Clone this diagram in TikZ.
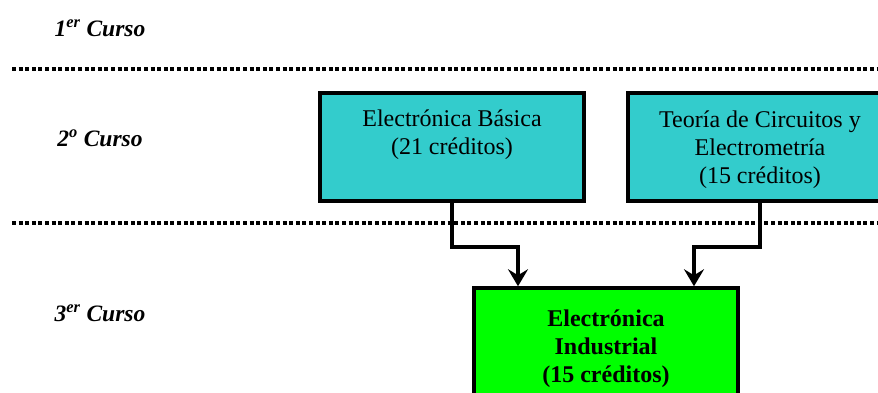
\documentclass[tikz,border=0pt]{standalone}
\usepackage{fontspec}
\setmainfont{Liberation Serif}
\usetikzlibrary{arrows.meta}
\definecolor{tealbox}{HTML}{33CCCC}
\definecolor{greenbox}{HTML}{00FF00}
\tikzset{
  yearlbl/.style={font=\fontsize{23.5}{26}\selectfont\bfseries\itshape, anchor=center},
  sep/.style={line width=4pt, dash pattern=on 4pt off 2.6pt},
  course/.style={draw=black, line width=3.5pt, inner sep=0pt},
  boxtxt/.style={font=\fontsize{24}{28}\selectfont, align=center, inner sep=0pt},
  conn/.style={line width=3.5pt, -{Stealth[length=17pt,width=20pt,inset=6pt]}}
}
\begin{document}
\begin{tikzpicture}[x=1pt,y=-1pt]
\useasboundingbox (0,0) rectangle (878,393);
\clip (0,0) rectangle (878,393);
\node[yearlbl] (y1) at (100,28) {1\textsuperscript{er} Curso};
\node[yearlbl] (y2) at (100,138) {2\textsuperscript{o} Curso};
\node[yearlbl] (y3) at (100,313) {3\textsuperscript{er} Curso};
\coordinate (l1a) at (12,69);
\coordinate (l1b) at (880,69);
\coordinate (l2a) at (12,223);
\coordinate (l2b) at (880,223);
\draw[sep] (l1a) -- (l1b);
\draw[sep] (l2a) -- (l2b);
\node[course, fill=tealbox, minimum width=264pt, minimum height=108pt] (b1) at (452,147) {};
\node[boxtxt, anchor=north] (t1) at ([yshift=-18pt]b1.north) {Electrónica Básica\\(21 créditos)};
\node[course, fill=tealbox, minimum width=264pt, minimum height=108pt] (b2) at (760,147) {};
\node[boxtxt] (t2) at ([yshift=-3pt]b2.center) {Teoría de Circuitos y\\Electrometría\\(15 créditos)};
\node[course, fill=greenbox, minimum width=264pt, minimum height=150pt] (b3) at (606,363) {};
\node[boxtxt, font=\fontsize{24}{28}\selectfont\bfseries, anchor=north] (t3) at ([yshift=-23pt]b3.north) {Electrónica\\Industrial\\(15 créditos)};
\draw[conn] (b1.south) -- ++(0,44) -| ([xshift=-88pt]b3.north);
\draw[conn] (b2.south) -- ++(0,44) -| ([xshift=88pt]b3.north);
\end{tikzpicture}
\end{document}
